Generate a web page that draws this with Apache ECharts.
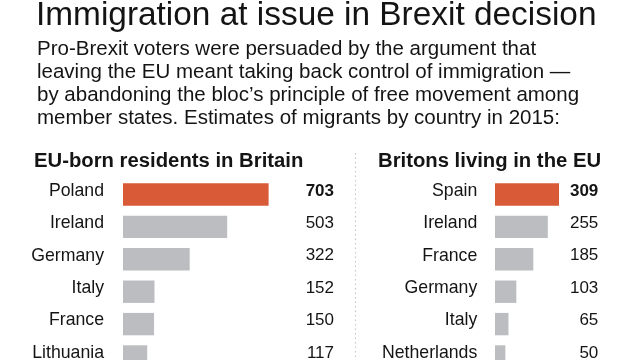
<!DOCTYPE html>
<html>
<head>
<meta charset="utf-8">
<script src="https://cdn.jsdelivr.net/npm/echarts@6/dist/echarts.min.js"></script>
<style>
html,body{margin:0;padding:0;background:#fff;}
#c{width:640px;height:360px;}
</style>
</head>
<body>
<div id="c"></div>
<script>
const titleText = 'Immigration at issue in Brexit decision';
const subtitleLines = [
  'Pro-Brexit voters were persuaded by the argument that',
  'leaving the EU meant taking back control of immigration \u2014',
  'by abandoning the bloc\u2019s principle of free movement among',
  'member states. Estimates of migrants by country in 2015:'
];
const leftHeader = 'EU-born residents in Britain';
const rightHeader = 'Britons living in the EU';
const leftCategories = ['Poland', 'Ireland', 'Germany', 'Italy', 'France', 'Lithuania'];
const leftValues = [703, 503, 322, 152, 150, 117];
const rightCategories = ['Spain', 'Ireland', 'France', 'Germany', 'Italy', 'Netherlands'];
const rightValues = [309, 255, 185, 103, 65, 50];

const ORANGE = '#d95a37';
const GRAY = '#bcbdc0';
const INK = '#141414';
const FONT = "'Liberation Sans', Arial, Helvetica, sans-serif";

const chart = echarts.init(document.getElementById('c'), null, {renderer: 'canvas'});

const rowTop = 178.3;
const rowH = 194.4;
const labelShift = 3.5;
const pxPerUnit = 0.20711;

const leftMax = 800, rightMax = 400;
const leftGridLeft = 123, rightGridLeft = 495;
const leftW = leftMax * pxPerUnit, rightW = rightMax * pxPerUnit;

function hiddenCat(gridIndex, cats) {
  return {type: 'category', gridIndex: gridIndex, data: cats, inverse: true, show: false};
}
function catAxis(gridIndex, cats, margin) {
  return {
    type: 'category', gridIndex: gridIndex, data: cats, inverse: true,
    axisLine: {show: false}, axisTick: {show: false}, splitLine: {show: false},
    axisLabel: {margin: margin, color: INK, fontFamily: FONT, fontSize: 17.7, hideOverlap: false}
  };
}
function valLabelAxis(gridIndex, vals, margin) {
  return {
    type: 'category', gridIndex: gridIndex, position: 'right', inverse: true,
    data: vals.map(String),
    axisLine: {show: false}, axisTick: {show: false}, splitLine: {show: false},
    axisLabel: {
      margin: margin, align: 'right', color: INK, fontFamily: FONT, fontSize: 17,
      formatter: function (v, i) { return i === 0 ? '{b|' + v + '}' : v; },
      rich: {b: {fontWeight: 'bold', fontFamily: FONT, fontSize: 17, color: INK}}
    }
  };
}
function grid(left, top, width) {
  return {left: left, top: top, width: width, height: rowH, outerBoundsMode: 'none', containLabel: false};
}

chart.setOption({
  animation: false,
  backgroundColor: '#fff',
  title: [
    {text: titleText, left: 36, top: -1, padding: 0,
      textStyle: {fontFamily: FONT, fontSize: 33.4, fontWeight: 'normal', color: INK, lineHeight: 33}},
    {text: subtitleLines.join('\n'), left: 37, top: 38, padding: 0,
      textStyle: {fontFamily: FONT, fontSize: 20.5, fontWeight: 'normal', color: INK, lineHeight: 22.9}},
    {text: leftHeader, left: 34, top: 151.5, padding: 0,
      textStyle: {fontFamily: FONT, fontSize: 20.3, fontWeight: 'bold', color: INK, lineHeight: 20}},
    {text: rightHeader, left: 378, top: 151.5, padding: 0,
      textStyle: {fontFamily: FONT, fontSize: 20.3, fontWeight: 'bold', color: INK, lineHeight: 20}}
  ],
  graphic: [{
    type: 'line', shape: {x1: 355.5, y1: 153, x2: 355.5, y2: 360},
    style: {stroke: '#c8c8c8', lineWidth: 1.2, lineDash: [1.5, 3]}
  }],
  grid: [
    grid(leftGridLeft, rowTop, leftW),
    grid(rightGridLeft, rowTop, rightW),
    grid(leftGridLeft, rowTop - labelShift, leftW),
    grid(rightGridLeft, rowTop - labelShift, rightW)
  ],
  xAxis: [
    {type: 'value', gridIndex: 0, min: 0, max: leftMax, show: false},
    {type: 'value', gridIndex: 1, min: 0, max: rightMax, show: false},
    {type: 'value', gridIndex: 2, min: 0, max: leftMax, show: false},
    {type: 'value', gridIndex: 3, min: 0, max: rightMax, show: false}
  ],
  yAxis: [
    hiddenCat(0, leftCategories),
    hiddenCat(1, rightCategories),
    catAxis(2, leftCategories, 19),
    valLabelAxis(2, leftValues, 334 - (leftGridLeft + leftW)),
    catAxis(3, rightCategories, 17.7),
    valLabelAxis(3, rightValues, 598.3 - (rightGridLeft + rightW))
  ],
  series: [
    {type: 'bar', xAxisIndex: 0, yAxisIndex: 0, data: leftValues, barWidth: 22.4,
      itemStyle: {color: function (p) { return p.dataIndex === 0 ? ORANGE : GRAY; }}},
    {type: 'bar', xAxisIndex: 1, yAxisIndex: 1, data: rightValues, barWidth: 22.4,
      itemStyle: {color: function (p) { return p.dataIndex === 0 ? ORANGE : GRAY; }}}
  ]
});
</script>
</body>
</html>
